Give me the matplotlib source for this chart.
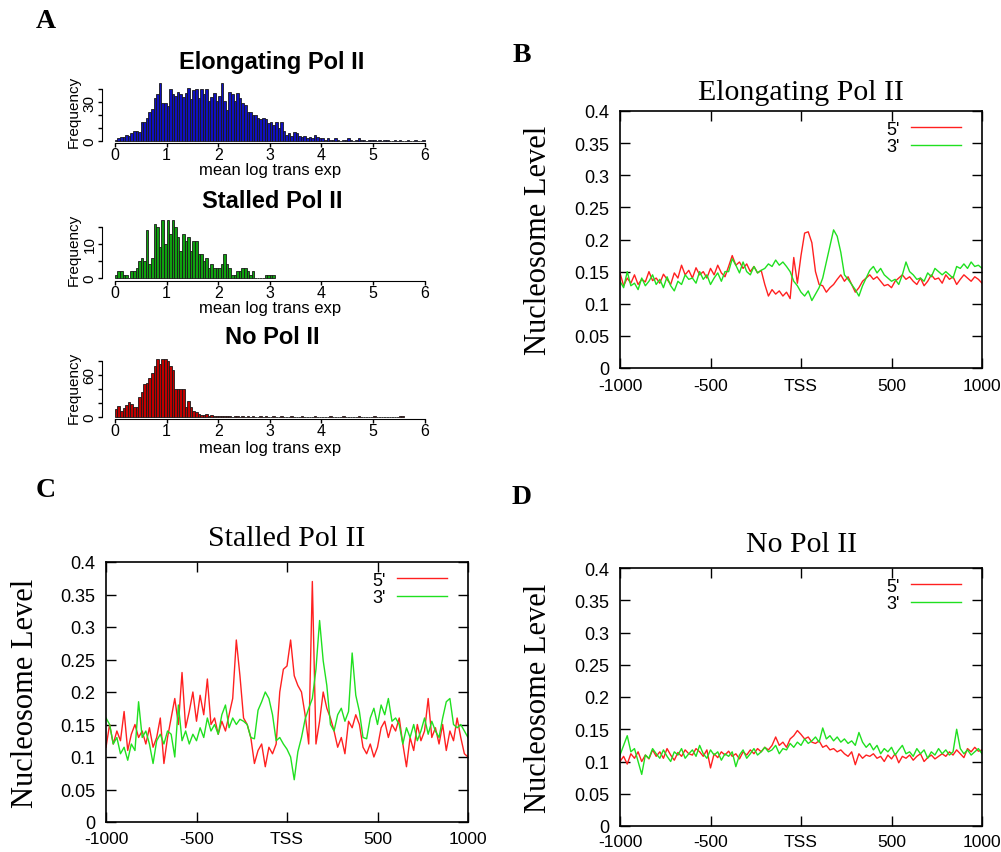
import numpy as np
import matplotlib.pyplot as plt

plt.rcParams['font.family'] = ['Liberation Sans', 'DejaVu Sans']

W, H = 1001, 853

# ---- panel A: histogram counts, bins of 0.05 starting at 0 ----
bin_w = 0.05
elong_counts = [1, 2, 3, 3, 5, 4, 6, 8, 8, 7,
                15, 15, 18, 22, 25, 33, 36, 45, 29, 29,
                27, 40, 36, 35, 38, 36, 34, 37, 41, 32,
                39, 40, 33, 40, 36, 40, 31, 34, 37, 31,
                35, 45, 31, 24, 38, 36, 31, 37, 33, 29,
                28, 22, 22, 20, 20, 18, 17, 18, 17, 14,
                15, 12, 15, 10, 15, 8, 5, 6, 4, 7,
                6, 4, 3, 4, 2, 3, 2, 5, 3, 2,
                2, 1, 2, 1, 1, 2, 1, 0, 1, 1,
                2, 1, 0, 1, 2, 1, 1, 0, 1, 1,
                1, 0, 1, 0, 1, 1, 0, 0, 1, 0,
                1, 0, 0, 1, 0, 0, 1, 0, 0, 1]
stalled_counts = [1, 2, 2, 1, 1, 0, 2, 2, 3, 5,
                  6, 5, 14, 4, 6, 16, 15, 9, 17, 10,
                  17, 13, 17, 15, 12, 8, 13, 11, 12, 8,
                  11, 11, 7, 7, 5, 6, 3, 4, 3, 3,
                  3, 4, 7, 4, 3, 1, 1, 2, 2, 3,
                  3, 2, 1, 2, 0, 0, 0, 0, 1, 1,
                  1, 1]
nopol_counts = [11, 15, 9, 13, 17, 21, 19, 14, 14, 29,
                35, 47, 48, 56, 63, 73, 82, 75, 82, 83,
                80, 73, 66, 40, 40, 40, 40, 14, 23, 14,
                9, 7, 4, 3, 3, 4, 2, 3, 2, 1,
                2, 1, 2, 1, 1, 0, 1, 1, 0, 1,
                0, 1, 0, 1, 0, 0, 1, 0, 1, 0,
                0, 1, 0, 0, 1, 0, 0, 0, 1, 0,
                0, 0, 1, 0, 0, 0, 0, 1, 0, 0,
                0, 0, 0, 1, 0, 0, 0, 0, 1, 0,
                0, 0, 0, 0, 1, 0, 0, 0, 0, 0,
                1, 0, 0, 0, 0, 0, 0, 0, 0, 0,
                1, 1]

# ---- panels B-D: nucleosome level (x1000), positions -1000..1000 step 20 ----
pos = np.arange(-1000, 1001, 20)
elong_5 = [148, 128, 140, 132, 145, 130, 138, 134, 150, 136,
           140, 132, 146, 138, 130, 148, 140, 160, 145, 152,
           140, 156, 145, 150, 140, 155, 145, 160, 148, 142,
           158, 175, 160, 165, 155, 162, 150, 158, 148, 152,
           130, 112, 122, 115, 120, 112, 118, 108, 172, 132,
           175, 210, 212, 195, 150, 130, 128, 118, 125, 130,
           138, 145, 135, 142, 130, 118, 125, 135, 140, 145,
           138, 142, 135, 128, 130, 125, 135, 140, 145, 138,
           142, 135, 130, 140, 128, 135, 145, 138, 140, 132,
           145, 138, 142, 130, 138, 145, 140, 135, 142, 138,
           132]
elong_3 = [135, 125, 150, 128, 132, 122, 140, 128, 135, 145,
           130, 138, 125, 142, 128, 120, 135, 130, 145, 138,
           140, 132, 150, 138, 145, 130, 140, 148, 135, 150,
           150, 170, 160, 148, 165, 150, 145, 158, 148, 152,
           155, 162, 158, 168, 160, 165, 158, 150, 135, 128,
           118, 112, 120, 105, 115, 125, 140, 165, 190, 215,
           205, 180, 145, 138, 130, 122, 112, 128, 140, 152,
           158, 148, 155, 145, 140, 135, 138, 130, 145, 165,
           150, 145, 138, 140, 135, 148, 142, 155, 150, 145,
           150, 145, 140, 158, 155, 162, 155, 165, 158, 160,
           155]
stall_5 = [115, 150, 120, 140, 125, 170, 110, 135, 150, 130,
           140, 120, 145, 115, 130, 160, 90, 130, 160, 190,
           150, 230, 145, 170, 200, 155, 195, 165, 220, 150,
           160, 135, 155, 140, 165, 190, 280, 225, 160, 150,
           130, 90, 110, 120, 85, 115, 105, 120, 200, 235,
           240, 280, 225, 210, 200, 165, 120, 370, 120, 155,
           200, 175, 160, 140, 115, 130, 105, 155, 145, 165,
           150, 115, 105, 120, 100, 115, 145, 155, 130, 150,
           140, 160, 120, 85, 130, 110, 150, 125, 140, 190,
           130, 145, 120, 150, 110, 140, 125, 160, 130, 105,
           100]
stall_3 = [160, 150, 120, 130, 105, 115, 95, 120, 110, 185,
           130, 140, 120, 90, 125, 135, 120, 140, 135, 100,
           180, 125, 140, 120, 135, 125, 145, 130, 160, 140,
           150, 135, 165, 180, 145, 160, 150, 158, 155, 150,
           130, 128, 172, 185, 200, 190, 165, 125, 130, 120,
           112, 100, 65, 108, 130, 158, 175, 190, 235, 310,
           248, 210, 150, 140, 165, 175, 155, 170, 260, 195,
           170, 130, 128, 160, 175, 150, 180, 165, 190, 155,
           160, 150, 120, 145, 130, 150, 125, 140, 160, 135,
           155, 140, 130, 160, 185, 190, 150, 145, 150, 140,
           130]
nopol_5 = [100, 108, 96, 112, 105, 115, 100, 110, 104, 118,
           108, 115, 105, 120, 110, 102, 114, 108, 118, 112,
           110, 120, 115, 108, 118, 90, 112, 106, 115, 110,
           116, 108, 112, 104, 115, 110, 118, 112, 120, 115,
           122, 118, 125, 138, 125, 130, 122, 135, 140, 148,
           142, 135, 138, 130, 128, 132, 122, 125, 118, 120,
           115, 118, 112, 108, 115, 95, 112, 105, 110, 108,
           112, 105, 108, 100, 110, 104, 112, 98, 108, 105,
           110, 102, 108, 112, 100, 106, 110, 104, 108, 112,
           108, 115, 110, 118, 112, 106, 120, 115, 122, 116,
           118]
nopol_3 = [110, 125, 140, 115, 120, 100, 80, 110, 105, 120,
           112, 105, 118, 108, 100, 115, 110, 120, 105, 112,
           118, 108, 125, 112, 105, 118, 110, 115, 102, 112,
           108, 115, 92, 110, 118, 105, 112, 120, 110, 115,
           122, 115, 118, 125, 112, 120, 118, 128, 122, 130,
           125, 135, 128, 132, 138, 130, 152, 135, 140, 132,
           138, 130, 135, 128, 132, 125, 145, 130, 122, 128,
           118, 125, 112, 120, 115, 122, 110, 118, 125, 112,
           115, 108, 120, 112, 118, 105, 115, 110, 120, 112,
           118, 110, 115, 150, 120, 112, 118, 110, 115, 120,
           112]

xtick_vals = [-1000, -500, 0, 500, 1000]
xtick_labels = ['-1000', '-500', 'TSS', '500', '1000']


def frac(x, y):
    return x / W, 1 - y / H


def rect(left, top, right, bottom):
    return [left / W, 1 - bottom / H, (right - left) / W, (bottom - top) / H]


fig = plt.figure(figsize=(W / 100, H / 100), dpi=100)

serif = 'Liberation Serif'

# ---------------- Panel A ----------------
hists = [
    (elong_counts, '#1010c0', 'Elongating Pol II', (144, 79.6), (-1.5, 48), [0, 10, 20, 30, 40], ['0', '', '', '30', ''], 62, 170),
    (stalled_counts, '#10a010', 'Stalled Pol II', (281.5, 217.8), (-0.75, 18), [0, 5, 10, 15], ['0', '', '10', ''], 201, 309),
    (nopol_counts, '#c00000', 'No Pol II', (420.1, 356), (-3, 88), [0, 20, 40, 60, 80], ['0', '', '', '60', ''], 338, 448),
]
for counts, col, name, (bot, top), ylim, yt, ytl, ty, xly in hists:
    ax = fig.add_axes(rect(102, top, 435, bot))
    edges = np.arange(len(counts)) * bin_w
    ax.bar(edges, counts, width=bin_w, align='edge', color=col,
           edgecolor='#1a1a1a', linewidth=0.6)
    ax.set_xlim(-0.25, 6.2)
    ax.set_ylim(*ylim)
    for s in ['top', 'right']:
        ax.spines[s].set_visible(False)
    ax.spines['bottom'].set_bounds(0, 6)
    ax.spines['left'].set_bounds(yt[0], yt[-1])
    ax.set_xticks(range(7))
    ax.set_yticks(yt)
    ax.set_yticklabels(ytl, rotation=90, va='center')
    ax.tick_params(direction='out', length=3, width=1, labelsize=11.5, pad=0)
    ax.tick_params(axis='y', labelsize=11, pad=1)
    ax.set_ylabel('Frequency', fontsize=11, labelpad=1)
    fig.text(*frac(272, ty), name, fontsize=17, fontweight='bold',
             ha='center', va='center')
    fig.text(*frac(270, xly), 'mean log trans exp', fontsize=12,
             ha='center', va='center')

# ---------------- Panels B-D ----------------
panels = [
    (rect(620, 112, 982, 369), 'Elongating Pol II', elong_5, elong_3, (801, 93), (539, 240), 7),
    (rect(106, 563, 468, 823), 'Stalled Pol II', stall_5, stall_3, (287, 539), (26, 693), 6.5),
    (rect(620, 569, 982, 827), 'No Pol II', nopol_5, nopol_3, (801, 545), (539, 698), 5.5),
]
for r, name, five, three, txy, yxy, xpad in panels:
    ax = fig.add_axes(r)
    ax.plot(pos, np.array(five) / 1000, color='#ff2020', lw=1.0, label="5'")
    ax.plot(pos, np.array(three) / 1000, color='#20e020', lw=1.0, label="3'")
    ax.set_xlim(-1000, 1000)
    ax.set_ylim(0, 0.4)
    ax.set_xticks(xtick_vals)
    ax.set_xticklabels(xtick_labels)
    ax.set_yticks(np.arange(0, 0.401, 0.05))
    ax.set_yticklabels(['0', '0.05', '0.1', '0.15', '0.2', '0.25', '0.3', '0.35', '0.4'])
    ax.tick_params(direction='in', top=True, right=True, length=7, width=1,
                   labelsize=13, pad=8)
    ax.tick_params(axis='x', pad=xpad, labelsize=12.5)
    for s in ax.spines.values():
        s.set_linewidth(1.2)
    ax.legend(loc='upper right', bbox_to_anchor=(0.978, 1.012), frameon=False,
              markerfirst=False, handlelength=2.8, fontsize=13,
              labelspacing=0.05, borderaxespad=0.3, handletextpad=0.6)
    fig.text(*frac(*txy), name, fontsize=21.5, family=serif,
             ha='center', va='center')
    fig.text(*frac(*yxy), 'Nucleosome Level', fontsize=22, family=serif,
             rotation=90, ha='center', va='center')

# panel letters
for letter, (x, y) in zip('ABCD', [(46, 21), (522, 56), (46, 491), (522, 498)]):
    fig.text(*frac(x, y), letter, fontsize=20, fontweight='bold',
             family=serif, ha='center', va='center')

fig.savefig('out.png', dpi=100)
